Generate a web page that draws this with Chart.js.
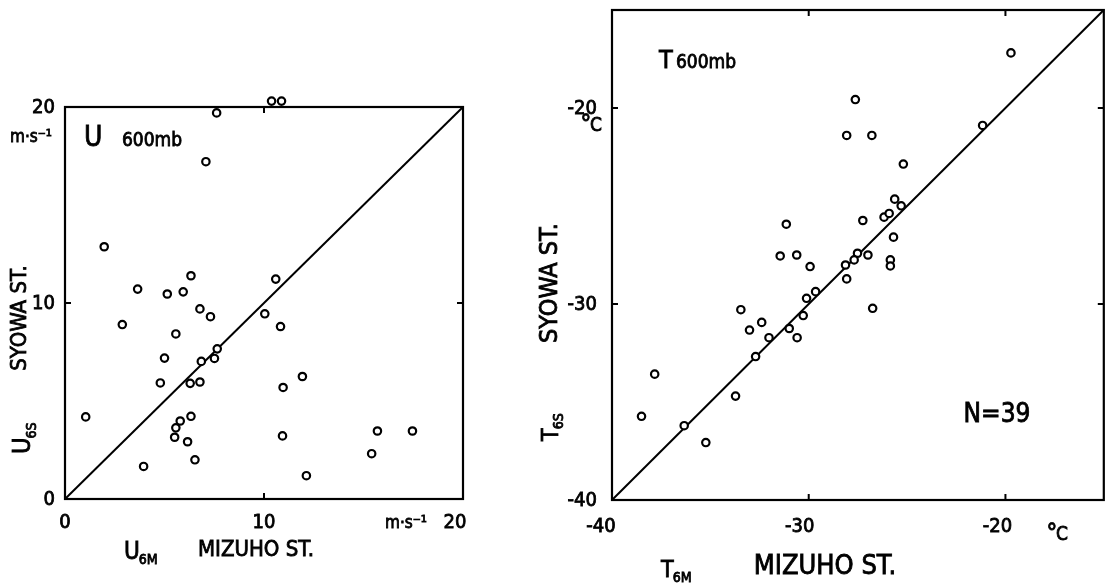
<!DOCTYPE html>
<html><head><meta charset="utf-8">
<script src="https://cdn.jsdelivr.net/npm/chart.js@4.4.0/dist/chart.umd.min.js"></script>
<style>
html,body{margin:0;padding:0;background:#fff;width:1110px;height:583px;overflow:hidden}
canvas{position:absolute;left:0;top:0}
</style></head><body>
<canvas id="cU" width="1110" height="583"></canvas>
<canvas id="cT" width="1110" height="583"></canvas>
<script>
// ---------- U 600mb (m·s-1) ----------
const uMizuho = [10.38,10.88,7.62,7.08,1.97,6.33,10.59,3.65,5.14,5.94,10.04,6.78,7.31,2.88,10.83,5.57,
  7.65,5.00,7.51,6.85,4.79,6.29,6.78,11.93,10.96,1.04,6.33,5.79,5.57,5.51,6.16,10.93,15.70,17.46,15.41,6.53,3.95,12.13];
const uSyowa  = [20.30,20.30,19.70,17.21,12.87,11.39,11.22,10.71,10.46,10.57,9.45,9.70,9.30,8.90,8.80,8.42,
  7.66,7.19,7.17,7.02,5.92,5.90,5.97,6.25,5.69,4.19,4.22,3.98,3.63,3.15,2.92,3.22,3.47,3.47,2.31,2.00,1.66,1.19];
const uRange = [0, 20];
const uTicks = [0, 10, 20];
const uTickLabels = ['0', '10', '20'];

// ---------- T 600mb (°C) ----------
const tMizuho = [-19.72,-27.63,-28.07,-26.79,-21.16,-25.19,-25.63,-25.30,-26.17,-25.91,-27.25,-31.14,-25.69,
  -31.45,-30.61,-29.93,-27.52,-27.69,-26.99,-28.13,-25.85,-25.85,-28.07,-30.11,-29.65,
  -33.45,-26.75,-30.28,-32.39,-33.01,-30.99,-30.59,-32.02,-32.70,-37.83,-33.72,-38.50,-36.33,-35.23];
const tSyowa  = [-17.19,-19.57,-21.40,-21.40,-20.89,-22.86,-24.65,-24.99,-25.57,-25.38,-25.74,-25.93,-26.59,
  -27.55,-27.50,-28.09,-27.41,-27.75,-27.50,-28.01,-27.75,-28.06,-28.72,-29.71,-29.37,
  -30.29,-30.22,-30.59,-30.94,-31.33,-31.25,-31.72,-31.72,-32.68,-33.58,-34.70,-35.73,-36.21,-37.07];
const tRange = [-40, -15];
const tTicks = [-40, -30, -20];
const tTickLabels = ['-40', '-30', '-20'];

const FONT = '"DejaVu Sans Condensed","DejaVu Sans",sans-serif';
const STROKE = 0.8;

function put(ctx, s, x, y) {
  ctx.lineWidth = STROKE;
  ctx.fillText(s, x, y);
  ctx.strokeText(s, x, y);
}
function txt(ctx, s, x, y, size, align) {
  ctx.font = size + 'px ' + FONT;
  ctx.textAlign = align || 'center';
  ctx.textBaseline = 'middle';
  put(ctx, s, x, y);
}
function degC(ctx, x, y) {
  ctx.font = '24px ' + FONT;
  ctx.textAlign = 'center';
  ctx.textBaseline = 'top';
  put(ctx, '°', x - 5, y - 10);
  txt(ctx, 'C', x + 5, y + 2, 19, 'center');
}
function subTxt(ctx, main, sub, x, y, size, subSize, rot) {
  ctx.save();
  ctx.translate(x, y);
  if (rot) ctx.rotate(-Math.PI / 2);
  ctx.textBaseline = 'alphabetic';
  ctx.textAlign = 'left';
  ctx.font = size + 'px ' + FONT;
  put(ctx, main, 0, 0);
  const w = ctx.measureText(main).width;
  ctx.font = subSize + 'px ' + FONT;
  put(ctx, sub, w - 1, size * 0.22);
  ctx.restore();
}
function rotTxt(ctx, s, cx, cy, size) {
  ctx.save();
  ctx.translate(cx, cy);
  ctx.rotate(-Math.PI / 2);
  txt(ctx, s, 0, 0, size, 'center');
  ctx.restore();
}

const decor = {
  id: 'decor',
  afterDraw(chart, args, o) {
    const ctx = chart.ctx, a = chart.chartArea;
    const xs = chart.scales.x, ys = chart.scales.y;
    ctx.save();
    ctx.strokeStyle = '#000'; ctx.fillStyle = '#000';
    ctx.lineWidth = 2.2;
    ctx.strokeRect(a.left, a.top, a.right - a.left, a.bottom - a.top);
    ctx.lineWidth = 2;
    o.ticks.forEach(v => {
      if (v <= o.range[0] || v >= o.range[1]) return;
      const px = xs.getPixelForValue(v), py = ys.getPixelForValue(v);
      ctx.beginPath();
      ctx.moveTo(px, a.top); ctx.lineTo(px, a.top + 6);
      ctx.moveTo(px, a.bottom); ctx.lineTo(px, a.bottom - 6);
      ctx.moveTo(a.left, py); ctx.lineTo(a.left + 6, py);
      ctx.moveTo(a.right, py); ctx.lineTo(a.right - 6, py);
      ctx.stroke();
    });
    o.ticks.forEach((v, i) => {
      txt(ctx, o.labels[i], o.yLabelX, ys.getPixelForValue(v) + 1, 20, 'right');
      txt(ctx, o.labels[i], xs.getPixelForValue(v) + o.xLabelDx[i], o.xLabelY, 20, 'center');
    });
    o.draw(ctx, xs, ys, a);
    ctx.restore();
  }
};

function makeChart(id, xs, ys, range, pad, deco) {
  const pts = xs.map((x, i) => ({ x: x, y: ys[i] }));
  return new Chart(document.getElementById(id), {
    type: 'scatter',
    data: {
      datasets: [
        { data: pts, pointRadius: 3.7, pointBorderWidth: 2.2, pointBackgroundColor: '#fff',
          pointBorderColor: '#000', clip: false, order: 1 },
        { type: 'line', data: [{ x: range[0], y: range[0] }, { x: range[1], y: range[1] }],
          borderColor: '#000', borderWidth: 2, pointRadius: 0, fill: false, clip: false, order: 2 }
      ]
    },
    options: {
      responsive: false, animation: false, events: [],
      layout: { padding: pad },
      plugins: { legend: { display: false }, tooltip: { enabled: false }, decor: deco },
      scales: {
        x: { type: 'linear', min: range[0], max: range[1], display: false },
        y: { type: 'linear', min: range[0], max: range[1], display: false }
      }
    },
    plugins: [decor]
  });
}

makeChart('cU', uMizuho, uSyowa, uRange, { left: 65, top: 107, right: 647, bottom: 84 }, {
  ticks: uTicks, labels: uTickLabels, range: uRange, yLabelX: 55, xLabelY: 523, xLabelDx: [0, 0, -8],
  draw(ctx) {
    txt(ctx, 'm·s⁻¹', 31, 138, 17);
    txt(ctx, 'm·s⁻¹', 406, 524, 17);
    txt(ctx, 'U', 84, 139, 28, 'left');
    txt(ctx, '600mb', 122, 141, 19, 'left');
    subTxt(ctx, 'U', '6M', 124, 559, 24, 14, false);
    txt(ctx, 'MIZUHO ST.', 256, 550, 22);
    rotTxt(ctx, 'SYOWA ST.', 20, 318, 22);
    subTxt(ctx, 'U', '6S', 30, 454, 25, 14, true);
  }
});

makeChart('cT', tMizuho, tSyowa, tRange, { left: 612, top: 10, right: 3, bottom: 83 }, {
  ticks: tTicks, labels: tTickLabels, range: tRange, yLabelX: 597, xLabelY: 527, xLabelDx: [-11, -9, -8],
  draw(ctx) {
    degC(ctx, 591, 124);
    degC(ctx, 1057, 533);
    txt(ctx, 'T', 659, 61, 25, 'left');
    txt(ctx, '600mb', 676, 63, 19, 'left');
    txt(ctx, 'N=39', 997, 415, 26);
    subTxt(ctx, 'T', '6M', 661, 577, 23, 14, false);
    txt(ctx, 'MIZUHO ST.', 825, 567, 27);
    rotTxt(ctx, 'SYOWA ST.', 550, 283, 25);
    subTxt(ctx, 'T', '6S', 558, 441, 23, 14, true);
  }
});
</script>
</body></html>
